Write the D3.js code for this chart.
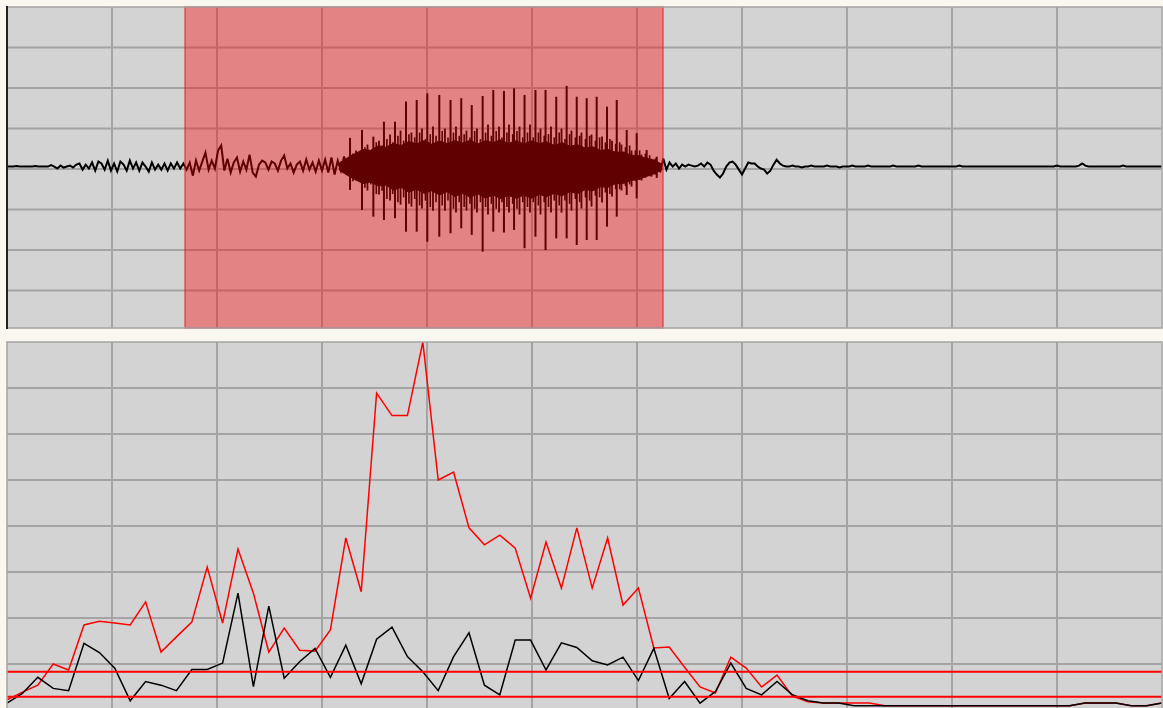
<!DOCTYPE html>
<html><head><meta charset="utf-8">
<script src="https://cdn.jsdelivr.net/npm/d3@7"></script>
<style>html,body{margin:0;padding:0;background:#f9f7ef;overflow:hidden}svg{display:block}</style>
</head><body>
<svg id="c" width="1163" height="708"></svg>
<script>
// ---------------- DATA ----------------
// time axis (seconds)
const timeDomain = [0, 1.1];
const timeGridTicks = [0.1, 0.2, 0.3, 0.4, 0.5, 0.6, 0.7, 0.8, 0.9, 1.0];

// waveform panel
const ampDomain = [-1, 1];
const ampGridTicks = [-0.75, -0.5, -0.25, 0, 0.25, 0.5, 0.75];
const dcOffset = 0.015;
const selection = [0.1695, 0.6248];
const waveStep = 0.003;
const noiseLeftStart = 0;
const noiseLeft = [
  0,0,0,0.003,0,0,0,0,0,0.003, 0,0,0,0,0.009,0,-0.012,0.006,-0.006,0,
  0.006,-0.006,0.012,0.019,-0.019,0.012,-0.012,0.025,-0.025,0.031,
  0.019,-0.019,0.037,-0.025,0.019,-0.031,0.031,0.012,-0.025,0.037,
  -0.012,0.025,-0.025,0.025,0,-0.031,0.025,-0.019,0.012,-0.019,
  0.019,-0.025,0.019,-0.012,0.025,-0.012,0.019,-0.019,0.025,-0.056,
  0.037,-0.025,0.031,0.086,-0.019,0.037,-0.012,0.099,0.130,-0.025,
  0.049,-0.037,0.025,0.056,-0.031,0.031,-0.019,0.074,-0.037,-0.062,
  0.012,0.037,0.025,-0.019,0.031,0.019,-0.025,0.037,0.068,-0.012,
  0.019,-0.037,0.012,0.031,-0.025,0.043,-0.019,0.025,-0.031,0.037,
  -0.025,0.043,-0.037,0.056,-0.049,0.037,-0.025,0.062,-0.049,0.074,
  -0.062,0.086,-0.074
];
const noiseRightStart = 0.622;
const noiseRight = [
  -0.037,0.049,-0.019,0.025,0,0.019,-0.012,0.012,0,0.012,
  0.006,0,0.006,0.019,0,0.025,0.012,-0.025,-0.049,-0.068,
  -0.043,0,0.025,0.031,0.012,-0.019,-0.049,-0.012,0.025,0.019,
  0.019,0,-0.012,-0.019,-0.043,-0.025,0.012,0.043,0.019,0.006,
  0,0,0.006,0,0,-0.006,0,0,0.006,0,
  0,0,0,0.006,0,0,0,-0.006,0,0,
  0,0.006,0,0,0,0,0.006,0,0,0,
  0,0,0,0,0.006,0,0,0,0,0,
  0,0,0.006,0,0,0,0,0,0,0,
  0,0,0,0,0,0.006,0,0,0,0,
  0,0,0,0,0,0,0,0,0,0,
  0,0,0,0,0,0,0,0,0,0,
  0,0,0,0,0,0,0.006,0,0,0,
  0,0,0,0.006,0.019,0.006,0,0,0,0,
  0,0,0,0,0,0,0,0.006,0,0,
  0,0,0,0,0,0,0,0,0,0,
  0,0,0,0
];
const bodyStart = 0.317;
const bodyStep = 0.0073;
const bodyUpper = [0.025,0.055,0.080,0.105,0.100,0.128,0.120,0.142,0.130,0.155,0.140,0.160,0.138,0.158,0.142,0.160,0.145,0.162,0.140,0.160,0.148,0.165,0.142,0.160,0.140,0.158,0.142,0.152,0.130,0.148,0.126,0.135,0.115,0.122,0.100,0.105,0.088,0.090,0.070,0.068,0.050,0.040,0.015];
const bodyLower = [-0.025,-0.055,-0.080,-0.105,-0.095,-0.120,-0.115,-0.145,-0.128,-0.158,-0.140,-0.165,-0.150,-0.175,-0.155,-0.185,-0.165,-0.190,-0.168,-0.195,-0.175,-0.198,-0.178,-0.196,-0.176,-0.195,-0.172,-0.185,-0.165,-0.180,-0.155,-0.168,-0.142,-0.150,-0.125,-0.128,-0.105,-0.105,-0.085,-0.080,-0.060,-0.045,-0.020];
// pitch pulses
const pulseTimes = [0.3267,0.3381,0.3489,0.3590,0.3695,0.3800,0.3902,0.4003,0.4117,0.4224,0.4326,0.4426,0.4530,0.4631,0.4733,0.4829,0.4929,0.5033,0.5129,0.5231,0.5330,0.5426,0.5521,0.5616,0.5714,0.5807,0.5902,0.5997,0.6092,0.6188];
const pulsePeaks = [0.177,0.226,0.185,0.277,0.277,0.401,0.411,0.452,0.442,0.411,0.422,0.380,0.436,0.473,0.467,0.483,0.442,0.473,0.473,0.431,0.498,0.431,0.422,0.431,0.370,0.411,0.226,0.206,0.102,0.061];
const pulseTroughs = [-0.144,-0.268,-0.309,-0.330,-0.319,-0.402,-0.402,-0.464,-0.433,-0.412,-0.381,-0.422,-0.525,-0.402,-0.407,-0.391,-0.504,-0.433,-0.515,-0.443,-0.443,-0.484,-0.453,-0.453,-0.371,-0.309,-0.175,-0.196,-0.062,-0.070];
const minorTimes = [0.3324,0.3433,0.3543,0.3648,0.3748,0.3852,0.3952,0.4057,0.4171,0.4276,0.4376,0.4476,0.4581,0.4686,0.4781,0.4881,0.4981,0.5081,0.5181,0.5281,0.5376,0.5471,0.5567,0.5667,0.5762,0.5852,0.5948,0.6043,0.6138];
const minorPeaks = [0.099,0.136,0.160,0.198,0.222,0.210,0.235,0.247,0.235,0.247,0.222,0.235,0.259,0.247,0.259,0.247,0.259,0.235,0.247,0.235,0.222,0.210,0.198,0.185,0.160,0.136,0.099,0.074,0.049];
const minorTroughs = [-0.086,-0.148,-0.173,-0.210,-0.235,-0.247,-0.259,-0.272,-0.272,-0.284,-0.272,-0.284,-0.296,-0.284,-0.284,-0.296,-0.284,-0.296,-0.284,-0.284,-0.272,-0.259,-0.247,-0.222,-0.185,-0.148,-0.123,-0.086,-0.062];
const fineTimes = [0.3295,0.3350,0.3409,0.3464,0.3517,0.3572,0.3618,0.3673,0.3723,0.3778,0.3828,0.3883,0.3930,0.3985,0.4031,0.4086,0.4145,0.4200,0.4252,0.4307,0.4354,0.4409,0.4454,0.4509,0.4558,0.4613,0.4659,0.4714,0.4761,0.4816,0.4857,0.4912,0.4957,0.5012,0.5061,0.5116,0.5157,0.5212,0.5259,0.5314,0.5358,0.5413,0.5454,0.5509,0.5549,0.5604,0.5644,0.5699,0.5742,0.5797,0.5835,0.5890,0.5930,0.5985,0.6025,0.6080,0.6120,0.6175];
const finePeaks = [0.08,0.07,0.12,0.10,0.15,0.13,0.17,0.15,0.19,0.16,0.20,0.18,0.21,0.17,0.20,0.19,0.22,0.18,0.21,0.19,0.20,0.18,0.22,0.17,0.21,0.19,0.22,0.18,0.21,0.20,0.22,0.18,0.21,0.18,0.21,0.19,0.20,0.18,0.21,0.17,0.20,0.18,0.19,0.17,0.19,0.16,0.18,0.15,0.17,0.14,0.15,0.12,0.13,0.10,0.10,0.08,0.07,0.05];
const fineTroughs = [-0.09,-0.07,-0.13,-0.11,-0.17,-0.15,-0.20,-0.17,-0.22,-0.19,-0.23,-0.20,-0.24,-0.21,-0.25,-0.22,-0.24,-0.21,-0.26,-0.22,-0.25,-0.23,-0.26,-0.22,-0.25,-0.23,-0.26,-0.22,-0.25,-0.23,-0.26,-0.22,-0.25,-0.22,-0.24,-0.22,-0.25,-0.21,-0.24,-0.21,-0.23,-0.20,-0.22,-0.19,-0.21,-0.18,-0.19,-0.16,-0.17,-0.14,-0.14,-0.12,-0.11,-0.09,-0.08,-0.07,-0.06,-0.05];

// energy panel
const frameHop = 0.014667;
const levelDomain = [0, 80];
const levelGridTicks = [10, 20, 30, 40, 50, 60, 70];
const energyRed = [2.2,3.9,5.4,10.0,8.7,18.5,19.3,18.9,18.5,23.5, 12.6,15.9,19.1,31.1,18.9,35.0,25.4,12.6,17.8,13.0, 12.8,17.4,37.4,25.7,68.9,64.0,64.0,80.0,50.0,51.7, 39.6,35.9,38.0,35.2,24.3,36.5,26.5,39.6,26.5,37.4, 22.8,26.5,13.5,13.7,9.3,5.0,3.7,11.5,9.1,5.0, 7.6,3.0,1.8,1.5,1.5,1.5,1.5,0.9,0.9,0.9, 0.9,0.9,0.9,0.9,0.9,0.9,0.9,0.9,0.9,0.9, 1.5,1.5,1.5,0.9,0.9,1.5];
const energyBlack = [1.5,3.6,7.1,4.7,4.2,14.5,12.5,9.1,2.0,6.2, 5.4,4.2,8.8,8.8,10.2,25.4,5.1,22.6,6.9,10.5, 13.4,7.1,14.1,5.7,15.4,18.0,11.6,8.3,4.2,11.6, 16.8,5.4,3.3,15.2,15.2,8.7,14.6,13.6,10.7,9.8, 11.5,6.4,13.4,2.5,6.2,1.5,4.0,10.2,4.7,3.3, 6.2,3.3,2.0,1.5,1.5,0.9,0.9,0.9,0.9,0.9, 0.9,0.9,0.9,0.9,0.9,0.9,0.9,0.9,0.9,0.9, 1.5,1.5,1.5,0.9,0.9,1.5];
const thresholds = [8.3, 2.9];

// ---------------- DRAW ----------------
const svg = d3.select('#c');
const L = 7, R = 1162;
const P1 = {y0: 7, y1: 328};
const P2 = {y0: 342, y1: 712};
const GRID = '#a4a4a4', PANEL = '#d3d3d3';

const x = d3.scaleLinear().domain(timeDomain).range([L, R]);
const yTop = d3.scaleLinear().domain(ampDomain).range([331, 7]);
const yBot = d3.scaleLinear().domain(levelDomain).range([710, 342]);

const defs = svg.append('defs');
defs.append('clipPath').attr('id','clip1').append('rect').attr('x',L).attr('y',P1.y0).attr('width',R-L).attr('height',P1.y1-P1.y0);
defs.append('clipPath').attr('id','clip2').append('rect').attr('x',L).attr('y',P2.y0).attr('width',R-L).attr('height',P2.y1-P2.y0);

// ---- top panel
const g1 = svg.append('g');
g1.append('rect').attr('x',L).attr('y',P1.y0).attr('width',R-L).attr('height',P1.y1-P1.y0).attr('fill',PANEL);
const g1c = g1.append('g').attr('clip-path','url(#clip1)');
g1c.selectAll('line.vg').data(timeGridTicks).join('line').attr('class','vg')
  .attr('x1',d=>x(d)).attr('x2',d=>x(d)).attr('y1',P1.y0).attr('y2',P1.y1)
  .attr('stroke',GRID).attr('stroke-width',2);
g1c.selectAll('line.hg').data(ampGridTicks).join('line').attr('class','hg')
  .attr('x1',L).attr('x2',R).attr('y1',d=>yTop(d)).attr('y2',d=>yTop(d))
  .attr('stroke',GRID).attr('stroke-width',2);

const yW = v => yTop(v + dcOffset);
const noiseLine = start => d3.line().x((d,i)=>x(start + i*waveStep)).y(d=>yW(d));
g1c.append('path').datum(noiseLeft).attr('d', noiseLine(noiseLeftStart))
  .attr('fill','none').attr('stroke','#000').attr('stroke-width',2);
g1c.append('path').datum(noiseRight).attr('d', noiseLine(noiseRightStart))
  .attr('fill','none').attr('stroke','#000').attr('stroke-width',2);
const bodyData = bodyUpper.map((u,i)=>({t: bodyStart + i*bodyStep, u, l: bodyLower[i]}));
g1c.append('path').datum(bodyData)
  .attr('d', d3.area().x(d=>x(d.t)).y0(d=>yW(d.l)).y1(d=>yW(d.u)))
  .attr('fill','#000').attr('stroke','#000').attr('stroke-width',1);
const spikeSet = (times, hi, lo, cls, w) => {
  const data = times.map((t,i)=>({t, hi: hi[i], lo: lo[i]}));
  g1c.selectAll('line.'+cls).data(data).join('line').attr('class',cls)
    .attr('x1',d=>x(d.t)).attr('x2',d=>x(d.t)).attr('y1',d=>yW(d.hi)).attr('y2',d=>yW(d.lo))
    .attr('stroke','#000').attr('stroke-width',w);
};
spikeSet(fineTimes, finePeaks, fineTroughs, 'fine', 1.6);
spikeSet(minorTimes, minorPeaks, minorTroughs, 'minor', 1.8);
spikeSet(pulseTimes, pulsePeaks, pulseTroughs, 'pulse', 2);

// selection overlay
g1.append('rect').attr('x',x(selection[0])).attr('y',P1.y0)
  .attr('width',x(selection[1])-x(selection[0])).attr('height',P1.y1-P1.y0)
  .attr('fill','rgba(255,0,0,0.38)').attr('stroke','rgba(235,20,20,0.75)').attr('stroke-width',1.2);

// borders
g1.append('rect').attr('x',L).attr('y',P1.y0).attr('width',R-L).attr('height',P1.y1-P1.y0)
  .attr('fill','none').attr('stroke',GRID).attr('stroke-width',1.5);
g1.append('line').attr('x1',L).attr('x2',L).attr('y1',P1.y0-1).attr('y2',P1.y1+1)
  .attr('stroke','#222').attr('stroke-width',2);

// ---- bottom panel
const g2 = svg.append('g');
g2.append('rect').attr('x',L).attr('y',P2.y0).attr('width',R-L).attr('height',P2.y1-P2.y0).attr('fill',PANEL);
const g2c = g2.append('g').attr('clip-path','url(#clip2)');
g2c.selectAll('line.vg').data(timeGridTicks).join('line').attr('class','vg')
  .attr('x1',d=>x(d)).attr('x2',d=>x(d)).attr('y1',P2.y0).attr('y2',P2.y1)
  .attr('stroke',GRID).attr('stroke-width',2);
g2c.selectAll('line.hg').data(levelGridTicks).join('line').attr('class','hg')
  .attr('x1',L).attr('x2',R).attr('y1',d=>yBot(d)).attr('y2',d=>yBot(d))
  .attr('stroke',GRID).attr('stroke-width',2);

const eLine = d3.line().x((d,i)=>x(i*frameHop)).y(d=>yBot(d));
g2c.append('path').datum(energyRed).attr('d',eLine)
  .attr('fill','none').attr('stroke','#ff0000').attr('stroke-width',1.5);
g2c.append('path').datum(energyBlack).attr('d',eLine)
  .attr('fill','none').attr('stroke','#000').attr('stroke-width',1.5);
g2c.selectAll('line.th').data(thresholds).join('line').attr('class','th')
  .attr('x1',L).attr('x2',R).attr('y1',d=>yBot(d)).attr('y2',d=>yBot(d))
  .attr('stroke','#ff0000').attr('stroke-width',2);

g2.append('rect').attr('x',L).attr('y',P2.y0).attr('width',R-L).attr('height',P2.y1-P2.y0)
  .attr('fill','none').attr('stroke',GRID).attr('stroke-width',1.5);
</script>
</body></html>
